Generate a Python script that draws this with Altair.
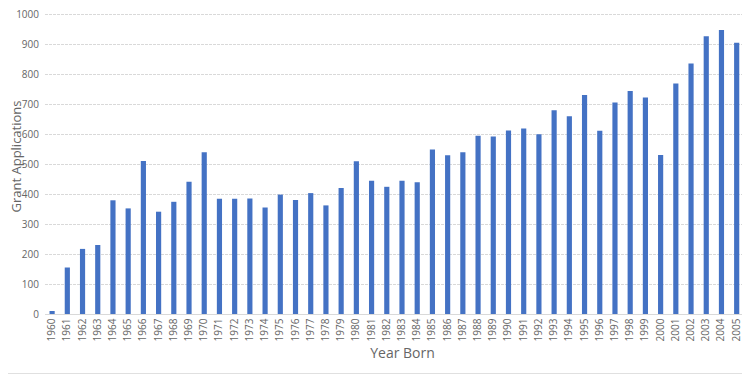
import altair as alt
import pandas as pd

years = [str(y) for y in range(1960, 2007)]
applications = [10, 155, 217, 230, 379, 352, 510, 341, 374, 441,
                539, 384, 384, 385, 355, 398, 380, 403, 362, 420,
                509, 444, 424, 444, 439, 548, 529, 539, 594, 592,
                612, 618, 599, 679, 659, 730, 611, 705, 743, 722,
                530, 768, 835, 926, 947, 904, None]

df = pd.DataFrame({"Year Born": years, "Grant Applications": applications})

GRAY = "#666666"
FONT = "Open Sans"

bars = alt.Chart(df).mark_bar(color="#4472C4", clip=False).encode(
    x=alt.X("Year Born:N", sort=years,
            scale=alt.Scale(domain=years, paddingInner=0.66, paddingOuter=0.33),
            axis=alt.Axis(title="Year Born", labelAngle=-90, labelAlign="right",
                          labelBaseline="middle", labelPadding=4, ticks=False,
                          domainColor="#d9d9d9", labelColor=GRAY, labelFontSize=10,
                          labelFont=FONT, titleFont=FONT, titleFontSize=14,
                          titleFontWeight="normal", titleColor=GRAY,
                          titleY=39, titleBaseline="middle", labelOverlap=False)),
    y=alt.Y("Grant Applications:Q",
            scale=alt.Scale(domain=[0, 1000], nice=False),
            axis=alt.Axis(title="Grant Applications", values=list(range(0, 1001, 100)),
                          format="d", ticks=False, domain=False, labelPadding=6,
                          gridColor="#d9d9d9", gridDash=[3, 1],
                          labelColor=GRAY, labelFontSize=10, labelFont=FONT,
                          titleFont=FONT, titleFontSize=13, titleFontWeight="normal",
                          titleColor=GRAY, titleX=-28.5, titleY=142,
                          titleBaseline="middle", titleAngle=-90)),
)

sep = alt.Chart(df).mark_rule(color="#e0e0e0", strokeWidth=1).encode(
    x=alt.value(-40), x2=alt.value(710), y=alt.value(359.5)
)

chart = alt.layer(bars, sep).properties(
    width=715, height=300,
    autosize=alt.AutoSizeParams(type="none"),
    padding={"left": 36.5, "top": 6, "right": -17.5, "bottom": 61},
).configure_view(stroke=None)

chart.save("out.html", embed_options={"renderer": "svg", "actions": False})
